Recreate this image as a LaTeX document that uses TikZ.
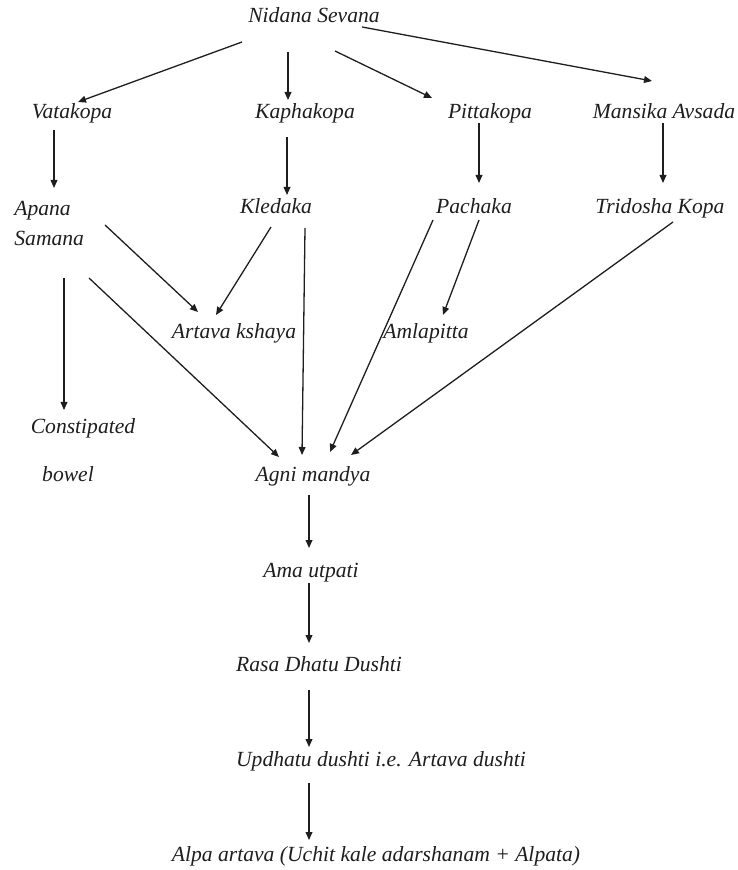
\documentclass[tikz,border=0pt]{standalone}
\usepackage{fontspec}
\setmainfont{Liberation Serif}
\usetikzlibrary{arrows.meta,calc}
\definecolor{ink}{HTML}{1E1E1E}

\begin{document}
\begin{tikzpicture}[
  x=0.5pt, y=-0.5pt,
  font=\fontsize{10.8}{15}\selectfont\itshape,
  lbl/.style={inner sep=0pt, anchor=base, text=ink},
  flow/.style={-{Triangle[length=4pt,width=3.4pt]}, line width=0.65pt, ink},
]
\useasboundingbox (0,0) rectangle (737,870);

% ---------------- the causes ----------------
\node[lbl] (nid) at (314,23)  {Nidana Sevana};
\node[lbl] (vat) at (72,119)  {Vatakopa};
\node[lbl] (kap) at (305,119) {Kaphakopa};
\node[lbl] (pit) at (490,119) {Pittakopa};
\node[lbl] (man) at (664,119) {Mansika Avsada};
\draw[flow] ($(nid.base)+(-72,19)$) -- ($(vat.base)+(6,-17)$);
\draw[flow] ($(nid.base)+(-26,29)$) -- ($(kap.base)+(-17,-19)$);
\draw[flow] ($(nid.base)+(21,28)$)  -- ($(pit.base)+(-58,-21)$);
\draw[flow] ($(nid.base)+(48,4)$)   -- ($(man.base)+(-12,-38)$);

% ---------------- the doshas ----------------
\node[lbl, anchor=west, align=left] (apa) at (14,223) {Apana\\Samana};
\node[lbl] (kle) at (276,214) {Kledaka};
\node[lbl] (pac) at (474,214) {Pachaka};
\node[lbl] (tri) at (660,214) {Tridosha Kopa};
\draw[flow] ($(vat.base)+(-18,11)$) -- ($(apa.west)+(40,-35)$);
\draw[flow] ($(kap.base)+(-18,18)$) -- ($(kle.base)+(11,-19)$);
\draw[flow] ($(pit.base)+(-11,4)$)  -- ($(pac.base)+(5,-31)$);
\draw[flow] ($(man.base)+(-1,4)$)   -- ($(tri.base)+(3,-31)$);

% ---------------- what follows ----------------
\node[lbl] (art) at (234,339) {Artava kshaya};
\node[lbl] (aml) at (426,339) {Amlapitta};
\node[lbl] (con) at (83,433)  {Constipated};
\node[lbl] (bow) at (68,481)  {bowel};
\node[lbl] (agn) at (313,481) {Agni mandya};
\draw[flow] ($(apa.west)+(91,2)$)  -- ($(art.base)+(-36,-27)$);
\draw[flow] ($(kle.base)+(-5,13)$) -- ($(art.base)+(-18,-24)$);
\draw[flow] ($(kle.base)+(29,14)$) -- ($(agn.base)+(-11,-26)$);
\draw[flow] ($(apa.west)+(75,55)$) -- ($(agn.base)+(-34,-24)$);
\draw[flow] ($(apa.west)+(50,55)$) -- ($(con.base)+(-19,-23)$);
\draw[flow] ($(pac.base)+(-41,6)$) -- ($(agn.base)+(17,-29)$);
\draw[flow] ($(pac.base)+(5,6)$)   -- ($(aml.base)+(17,-24)$);
\draw[flow] ($(tri.base)+(13,8)$)  -- ($(agn.base)+(38,-26)$);

% ---------------- down to the result ----------------
\node[lbl] (ama) at (311,577) {Ama utpati};
\node[lbl] (ras) at (319,671) {Rasa Dhatu Dushti};
\node[lbl] (upd) at (381,766) {Updhatu dushti i.e. Artava dushti};
\node[lbl] (alp) at (376,861) {Alpa artava (Uchit kale adarshanam + Alpata)};
\draw[flow] ($(agn.base)+(-4,14)$)  -- ($(ama.base)+(-2,-29)$);
\draw[flow] ($(ama.base)+(-2,6)$)   -- ($(ras.base)+(-10,-28)$);
\draw[flow] ($(ras.base)+(-10,19)$) -- ($(upd.base)+(-72,-19)$);
\draw[flow] ($(upd.base)+(-72,17)$) -- ($(alp.base)+(-67,-21)$);

\end{tikzpicture}
\end{document}
